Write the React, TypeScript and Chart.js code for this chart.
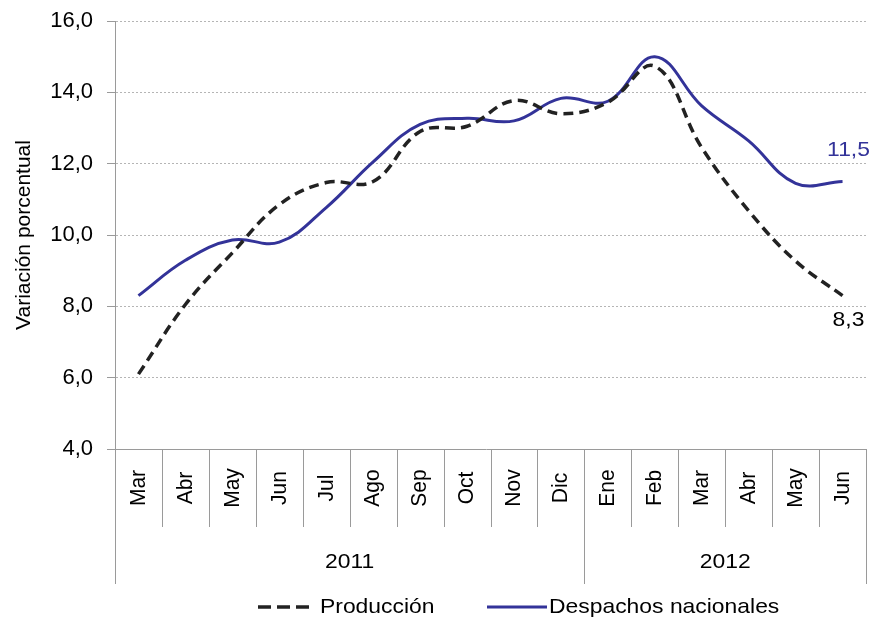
import React, { useEffect, useRef } from "react";
import { Chart, registerables } from "chart.js";

Chart.register(...registerables);

const months = ["Mar", "Abr", "May", "Jun", "Jul", "Ago", "Sep", "Oct", "Nov", "Dic", "Ene", "Feb", "Mar", "Abr", "May", "Jun"];
const years = ["2011", "2012"];
const yearSpans = [10, 6];
const produccion = [6.1, 8.05, 9.5, 10.85, 11.47, 11.5, 12.9, 13.05, 13.77, 13.4, 13.72, 14.73, 12.45, 10.68, 9.27, 8.3];
const despachos = [8.3, 9.29, 9.86, 9.8, 10.77, 12.05, 13.1, 13.27, 13.2, 13.83, 13.75, 15.0, 13.62, 12.64, 11.45, 11.5];
const yTicks = [4, 6, 8, 10, 12, 14, 16];

const FONT = "'Liberation Sans', Arial, sans-serif";
const FS = 21;
const STRETCH = 1.09;
const BLUE = "#333399";
const BLACK = "#222222";
const AXIS = "#9a9a9a";

const fmt = (v: number) => v.toFixed(1).replace(".", ",");

function stretchedText(ctx: CanvasRenderingContext2D, text: string, x: number, y: number, align: CanvasTextAlign) {
  ctx.save();
  ctx.translate(x, y);
  ctx.scale(STRETCH, 1);
  ctx.textAlign = align;
  ctx.fillText(text, 0, 0);
  ctx.restore();
}

const customAxis = {
  id: "customAxis",
  afterDraw(chart: any) {
    const { ctx, chartArea } = chart;
    const xs = chart.scales.x;
    const n = months.length;
    const left = chartArea.left;
    const right = chartArea.right;
    const bottom = chartArea.bottom;
    const step = (right - left) / n;
    ctx.save();
    ctx.strokeStyle = AXIS;
    ctx.lineWidth = 1;
    ctx.setLineDash([]);
    ctx.beginPath();
    ctx.moveTo(left - 8, Math.round(bottom) + 0.5);
    ctx.lineTo(right, Math.round(bottom) + 0.5);
    ctx.stroke();
    const yearBounds = new Set<number>();
    let acc = 0;
    yearBounds.add(0);
    yearSpans.forEach((s) => { acc += s; yearBounds.add(acc); });
    for (let i = 0; i <= n; i++) {
      const x = Math.round(left + i * step) + 0.5;
      const len = yearBounds.has(i) ? 135 : 78;
      ctx.beginPath();
      ctx.moveTo(x, bottom);
      ctx.lineTo(x, bottom + len);
      ctx.stroke();
    }
    ctx.fillStyle = "#000";
    ctx.font = `${FS}px ${FONT}`;
    ctx.textBaseline = "middle";
    for (let i = 0; i < n; i++) {
      const x = xs.getPixelForValue(i);
      ctx.save();
      ctx.translate(x, bottom + 39);
      ctx.scale(STRETCH, 1);
      ctx.rotate(-Math.PI / 2);
      ctx.textAlign = "center";
      ctx.fillText(months[i], 0, 0);
      ctx.restore();
    }
    let start = 0;
    years.forEach((yr, k) => {
      const end = start + yearSpans[k];
      const cx = left + ((start + end) / 2) * step;
      stretchedText(ctx, yr, cx, bottom + 113, "center");
      start = end;
    });
    const m0 = chart.getDatasetMeta(0).data;
    const m1 = chart.getDatasetMeta(1).data;
    const p0 = m0[m0.length - 1];
    const p1 = m1[m1.length - 1];
    ctx.fillStyle = "#000";
    stretchedText(ctx, fmt(produccion[produccion.length - 1]), p0.x + 6, p0.y + 25, "center");
    ctx.fillStyle = BLUE;
    stretchedText(ctx, fmt(despachos[despachos.length - 1]), p1.x + 6, p1.y - 31, "center");
    const ly = 607;
    ctx.lineWidth = 3.5;
    ctx.strokeStyle = BLACK;
    ctx.setLineDash([13, 6]);
    ctx.beginPath();
    ctx.moveTo(258, ly);
    ctx.lineTo(312, ly);
    ctx.stroke();
    ctx.setLineDash([]);
    ctx.strokeStyle = BLUE;
    ctx.lineWidth = 3;
    ctx.beginPath();
    ctx.moveTo(487, ly);
    ctx.lineTo(547, ly);
    ctx.stroke();
    ctx.fillStyle = "#000";
    stretchedText(ctx, "Producción", 320, ly, "left");
    stretchedText(ctx, "Despachos nacionales", 549, ly, "left");
    ctx.restore();
  },
};

export default function App() {
  const ref = useRef<HTMLCanvasElement | null>(null);
  useEffect(() => {
    if (!ref.current) return;
    const chart = new Chart(ref.current, {
      type: "line",
      data: {
        labels: months,
        datasets: [
          {
            label: "Producción",
            data: produccion,
            borderColor: BLACK,
            borderWidth: 3.5,
            borderDash: [10, 6],
            pointRadius: 0,
            tension: 0.4,
            fill: false,
          },
          {
            label: "Despachos nacionales",
            data: despachos,
            borderColor: BLUE,
            borderWidth: 3,
            pointRadius: 0,
            tension: 0.4,
            fill: false,
          },
        ],
      },
      options: {
        animation: false,
        responsive: false,
        layout: { padding: { left: 0, right: 3, top: 21, bottom: 171 } },
        plugins: { legend: { display: false }, tooltip: { enabled: false } },
        scales: {
          x: {
            type: "category",
            display: false,
            offset: true,
          },
          y: {
            min: 4,
            max: 16,
            afterBuildTicks: (scale: any) => {
              scale.ticks = yTicks.map((v) => ({ value: v }));
            },
            afterFit: (scale: any) => {
              scale.width = 115;
              scale.paddingTop = 0;
              scale.paddingBottom = 0;
            },
            ticks: {
              callback: (v: any) => fmt(Number(v)),
              color: "#000",
              font: { family: FONT, size: 22, lineHeight: 1 },
              padding: 14,
            },
            grid: {
              color: "#b5b5b5",
              tickColor: AXIS,
              tickLength: 8,
              tickBorderDash: [],
              drawTicks: true,
            },
            border: { display: true, color: AXIS, width: 1, dash: [2, 2] },
            title: {
              display: true,
              text: "Variación porcentual",
              color: "#000",
              font: { family: FONT, size: FS },
              padding: { top: 12, bottom: 0 },
            },
          },
        },
      },
      plugins: [customAxis],
    });
    return () => chart.destroy();
  }, []);
  return (
    <div style={{ position: "fixed", left: 0, top: 0, width: 869, height: 620, background: "#fff" }}>
      <canvas ref={ref} width={869} height={620} style={{ width: 869, height: 620 }} />
    </div>
  );
}
